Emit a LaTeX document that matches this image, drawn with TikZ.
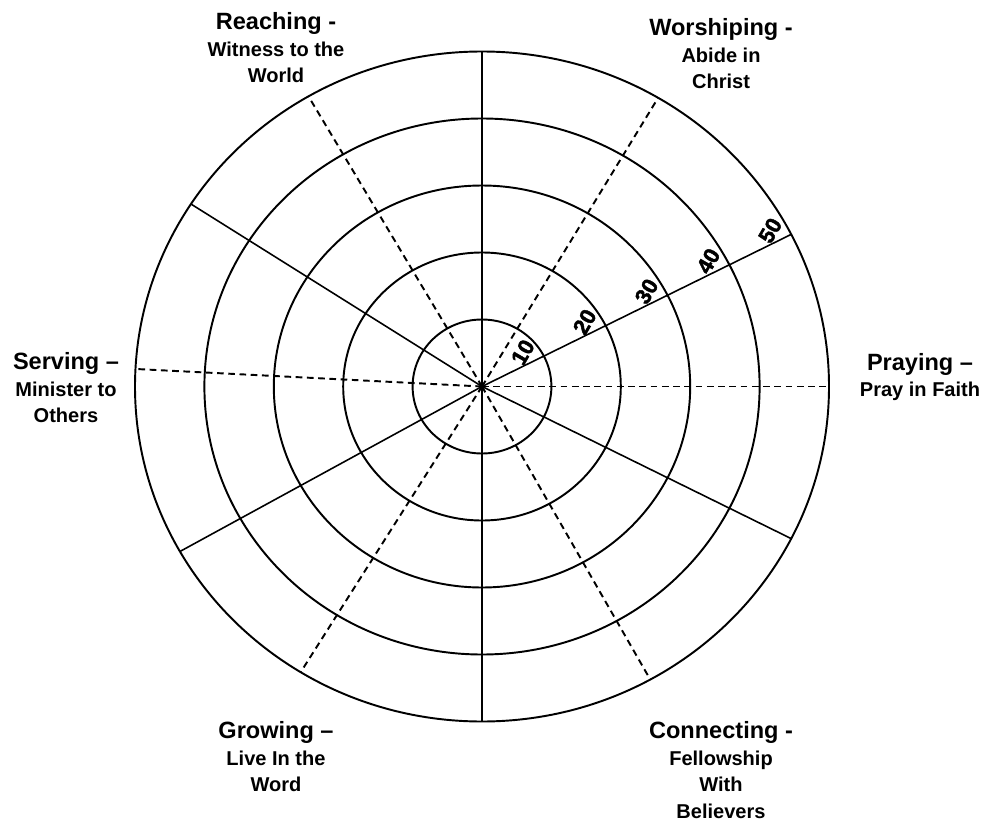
\documentclass[tikz,border=0pt]{standalone}
\usepackage{fontspec}
\setmainfont{Liberation Sans}
\newfontface\scoreface{Liberation Sans Bold}[FakeBold=2]
\usetikzlibrary{calc}

\tikzset{
  ring/.style={line width=1.1pt},
  spoke/.style={line width=0.9pt},
  dashspoke/.style={line width=1.1pt, dash pattern=on 3.8pt off 2.6pt},
  area/.style={align=center, inner sep=0pt, font=\bfseries\fontsize{11.4}{15.1}\selectfont},
  score/.style={inner sep=0pt, rotate=60, font=\scoreface\fontsize{12.5}{13}\selectfont}
}
\newcommand{\areatitle}[1]{{\fontsize{13.4}{15.1}\selectfont #1}}

\begin{document}
\begin{tikzpicture}[x=0.02cm, y=0.02cm]
            \useasboundingbox (0,0) rectangle (990,823);
            \coordinate (c) at (482,436.5);

            % Rings
            \foreach \k in {1,...,5} {
                \draw[ring] (c) ellipse [x radius={69.4*\k}, y radius={67*\k}];
            }

            % Solid spokes
            \foreach \angle in {27, 90, 147, 209.5, 270, 333} {
                \draw[spoke] (c) -- ($(c)+(\angle:347 and 335)$);
            }

            % Dashed spokes
            \foreach \angle in {0, 59.5, 120, 177, 238.5, 299} {
                \draw[dashspoke] (c) -- ($(c)+(\angle:347 and 335)$);
            }

            % Scale along the ray
            \foreach \k in {1,...,5} {
                \node[score] (s\k) at ($(c)+(27:{69.4*\k-17} and {67*\k-17})+(117:13)$) {\k0};
            }

            % Areas
            \node[area] (reach) at (276,775) {\areatitle{Reaching -}\\Witness to the\\World};
            \node[area] (worship) at (721,769) {\areatitle{Worshiping -}\\Abide in\\Christ};
            \node[area] (pray) at (920,446) {\areatitle{Praying –}\\Pray in Faith};
            \node[area] (serve) at (66,435) {\areatitle{Serving –}\\Minister to\\Others};
            \node[area] (grow) at (276,66) {\areatitle{Growing –}\\Live In the\\Word};
            \node[area] (connect) at (721,53) {\areatitle{Connecting -}\\Fellowship\\With\\Believers};

        \end{tikzpicture}
\end{document}
